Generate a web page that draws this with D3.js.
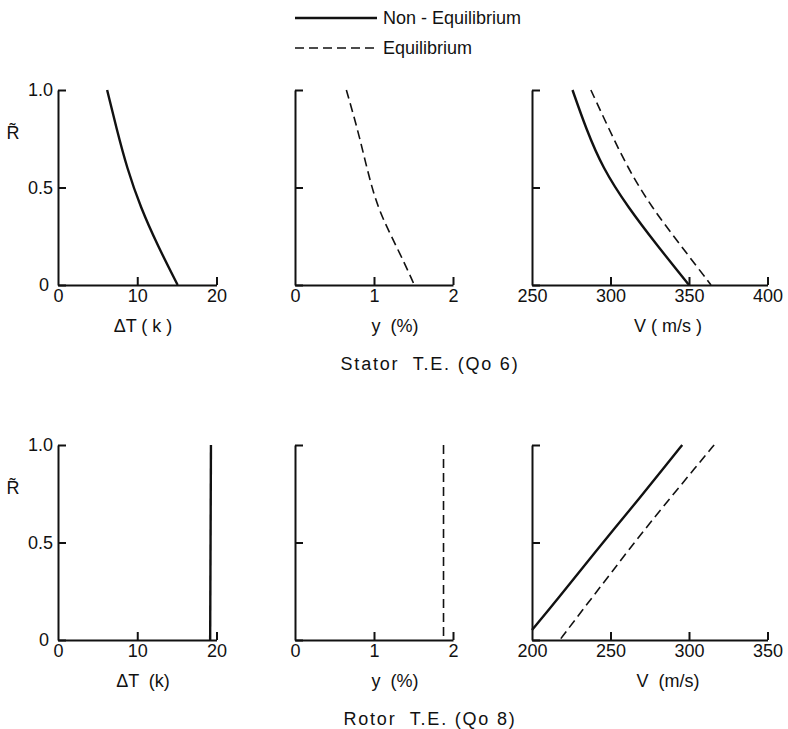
<!DOCTYPE html>
<html>
<head>
<meta charset="utf-8">
<script src="https://cdn.jsdelivr.net/npm/d3@7"></script>
<style>
  body { margin: 0; background: #fff; }
  svg text { font-family: "Liberation Sans", Arial, sans-serif; fill: #111; }
</style>
</head>
<body>
<div id="chart"></div>
<script>
/* radial profiles at stator / rotor trailing edge */

// [value, R] pairs
const statorDeltaT = [[6.2,1.0],[7.4,0.8],[8.7,0.6],[10.4,0.4],[12.6,0.2],[15.1,0]];
const statorWet = [[0.65,1.0],[0.82,0.76],[1.0,0.44],[1.2,0.265],[1.39,0.11],[1.51,0]];
const statorVNonEq = [[275.8,1.0],[284.5,0.8],[295,0.6],[311,0.4],[330,0.2],[350,0]];
const statorVEq = [[287.5,1.0],[299,0.8],[311,0.6],[326,0.4],[345,0.2],[364,0]];

const rotorDeltaT = [[19.3,1.0],[19.2,0]];
const rotorWet = [[1.88,1.0],[1.88,0]];
const rotorVNonEq = [[295.7,1.0],[287.7,0.92],[262.3,0.666],[241.2,0.461],[215.8,0.205],[200,0.051]];
const rotorVEq = [[316,1.0],[307.7,0.92],[272.9,0.58],[251.7,0.358],[230.6,0.137],[217.7,0]];

const rTicks = [0, 0.5, 1.0];
const rTickLabels = ["0", "0.5", "1.0"];
const dtTicks = [0, 10, 20];
const wetTicks = [0, 1, 2];
const statorVTicks = [250, 300, 350, 400];
const rotorVTicks = [200, 250, 300, 350];

const legendLabels = ["Non - Equilibrium", "Equilibrium"];
const rowTitles = ["Stator  T.E. (Qo 6)", "Rotor  T.E. (Qo 8)"];

const W = 788, H = 729;
const svg = d3.select("#chart").append("svg").attr("width", W).attr("height", H);

const dashed = "9,5";

// legend
legendLabels.forEach((lab, i) => {
  let y = 18 + i * 30;
  svg.append("line").attr("x1", 295).attr("x2", 377).attr("y1", y).attr("y2", y)
    .attr("stroke", "#111").attr("stroke-width", i == 0 ? 2.4 : 1.6)
    .attr("stroke-dasharray", i == 0 ? null : dashed);
  svg.append("text").attr("x", 383).attr("y", y + 6).attr("font-size", 18).text(lab);
});

function drawPanel(cfg) {
  let x = d3.scaleLinear().domain(cfg.xDomain).range(cfg.xRange);
  let y = d3.scaleLinear().domain([0, 1]).range(cfg.yRange);
  let g = svg.append("g");

  let xAxis = d3.axisBottom(x).tickValues(cfg.xTicks).tickFormat(d => d)
    .tickSizeInner(-8).tickSizeOuter(0).tickPadding(4);
  let gx = g.append("g").attr("transform", `translate(0,${cfg.yRange[0]})`).call(xAxis);
  gx.selectAll("text").attr("font-size", 18).attr("dy", "0.72em");

  let yAxis = d3.axisLeft(y).tickValues(rTicks).tickSizeInner(-8).tickSizeOuter(0).tickPadding(5)
    .tickFormat((d, i) => cfg.yLabels ? rTickLabels[i] : "");
  let gy = g.append("g").attr("transform", `translate(${cfg.xRange[0]},0)`).call(yAxis);
  gy.selectAll("text").attr("font-size", 18);
  gy.selectAll(".tick").filter(d => d == 0).select("text").attr("x", -9);

  g.selectAll(".domain, .tick line").attr("stroke", "#111").attr("stroke-width", 2);
  gx.selectAll(".tick").filter(d => d == cfg.xTicks[0]).select("line").remove();

  let line = d3.line().x(d => x(d[0])).y(d => y(d[1])).curve(d3.curveBasis);
  cfg.series.forEach(s => {
    g.append("path").datum(s.data).attr("d", line)
      .attr("fill", "none").attr("stroke", "#111")
      .attr("stroke-width", s.dash ? 1.6 : 2.4)
      .attr("stroke-dasharray", s.dash ? dashed : null);
  });

  g.append("text").attr("x", cfg.titleX).attr("y", cfg.yRange[0] + 47)
    .attr("text-anchor", "middle").attr("font-size", 18)
    .attr("xml:space", "preserve").text(cfg.title);

  if (cfg.yLabels) {
    g.append("text").attr("x", 13).attr("y", y(0.78) + 6).attr("text-anchor", "middle")
      .attr("font-size", 18).text("R\u0303");
  }
}

const rows = [
  { yRange: [285, 90], title: rowTitles[0],
    panels: [
      { xDomain: [0, 20], xTicks: dtTicks, series: [{ data: statorDeltaT }] },
      { xDomain: [0, 2], xTicks: wetTicks, series: [{ data: statorWet, dash: true }] },
      { xDomain: [250, 400], xTicks: statorVTicks, series: [{ data: statorVNonEq }, { data: statorVEq, dash: true }] }
    ] },
  { yRange: [640, 445], title: rowTitles[1],
    panels: [
      { xDomain: [0, 20], xTicks: dtTicks, series: [{ data: rotorDeltaT }] },
      { xDomain: [0, 2], xTicks: wetTicks, series: [{ data: rotorWet, dash: true }] },
      { xDomain: [200, 350], xTicks: rotorVTicks, series: [{ data: rotorVNonEq }, { data: rotorVEq, dash: true }] }
    ] }
];

const panelX = [[58, 216.5], [295, 453], [532, 767.5]];
const axisTitles = [["ΔT ( k )", "y  (%)", "V ( m/s )"], ["ΔT  (k)", "y  (%)", "V  (m/s)"]];
const axisTitleX = [143, 395, 668];

rows.forEach((row, r) => {
  row.panels.forEach((p, i) => {
    drawPanel({
      xDomain: p.xDomain, xRange: panelX[i], yRange: row.yRange, xTicks: p.xTicks,
      series: p.series, yLabels: i == 0, title: axisTitles[r][i], titleX: axisTitleX[i]
    });
  });
  svg.append("text").attr("x", 430).attr("y", row.yRange[0] + 85)
    .attr("text-anchor", "middle").attr("font-size", 18).attr("letter-spacing", 1.8)
    .attr("xml:space", "preserve").text(row.title);
});
</script>
</body>
</html>
